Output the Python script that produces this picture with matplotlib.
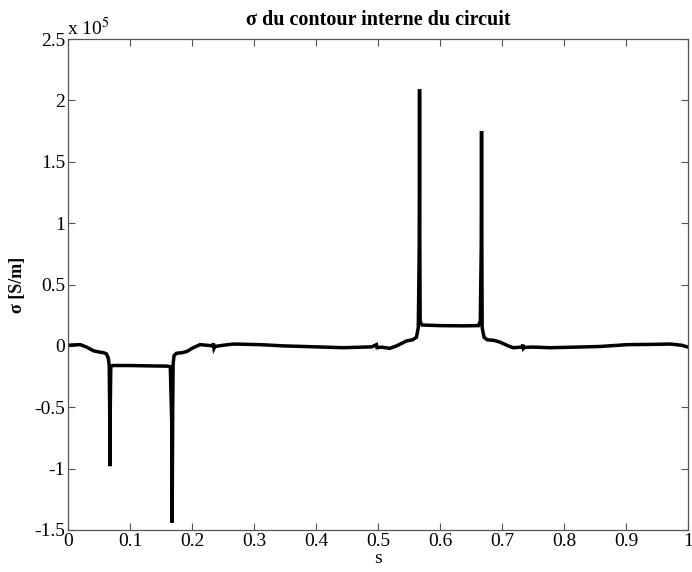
import matplotlib
matplotlib.use("Agg")
import matplotlib.pyplot as plt
from matplotlib.ticker import FuncFormatter

plt.rcParams['font.family'] = ['Liberation Serif', 'DejaVu Serif']
plt.rcParams['mathtext.fontset'] = 'stix'

# curvilinear abscissa s
s = [0.0, 0.01, 0.02, 0.03, 0.041, 0.05, 0.057, 0.062, 0.065, 0.0665, 0.0672, 0.0677,
     0.0682, 0.069, 0.072, 0.10, 0.13, 0.160, 0.165, 0.1672, 0.168, 0.1688, 0.1695,
     0.171, 0.175, 0.185, 0.192, 0.200, 0.213, 0.224, 0.233, 0.2345, 0.2355, 0.237, 0.25,
     0.267, 0.31, 0.347, 0.40, 0.444, 0.49, 0.4975, 0.4985, 0.505, 0.519, 0.53, 0.546,
     0.556, 0.562, 0.565, 0.5665, 0.567, 0.5675, 0.568, 0.571, 0.60, 0.64, 0.662,
     0.665, 0.6665, 0.667, 0.6675, 0.668, 0.671, 0.676, 0.687, 0.697, 0.71, 0.718,
     0.732, 0.7335, 0.7345, 0.736, 0.75, 0.778, 0.82, 0.858, 0.902, 0.94, 0.971, 0.99, 1.0]

# sigma in units of 1e5 S/m
sigma_e5 = [0.005, 0.008, 0.01, -0.01, -0.04, -0.05, -0.055, -0.065, -0.10, -0.16, -0.5,
            -0.98, -0.5, -0.17, -0.16, -0.16, -0.163, -0.165, -0.17, -0.6, -1.44, -0.6,
            -0.15, -0.08, -0.06, -0.055, -0.045, -0.02, 0.01, 0.005, 0.0, 0.02, -0.02,
            -0.005, 0.005, 0.015, 0.01, 0.0, -0.008, -0.015, -0.008, 0.01, -0.015, -0.01,
            -0.02, 0.0, 0.04, 0.05, 0.07, 0.15, 0.8, 2.09, 0.8, 0.2, 0.17, 0.165, 0.163,
            0.165, 0.2, 0.8, 1.75, 0.8, 0.15, 0.07, 0.05, 0.045, 0.03, 0.0, -0.015, -0.01,
            0.01, -0.02, -0.012, -0.01, -0.015, -0.01, -0.005, 0.01, 0.012, 0.015, 0.005,
            -0.01]

xticks = [0, 0.1, 0.2, 0.3, 0.4, 0.5, 0.6, 0.7, 0.8, 0.9, 1]
yticks = [-1.5, -1, -0.5, 0, 0.5, 1, 1.5, 2, 2.5]

fig = plt.figure(figsize=(6.92, 5.72), dpi=100)
ax = fig.add_axes([68/692, 1 - 530/572, 620/692, 491/572])

ax.plot(s, sigma_e5, color='black', linewidth=2.5, solid_joinstyle='miter')

ax.set_xlim(0, 1)
ax.set_ylim(-1.5, 2.5)
ax.set_xticks(xticks)
ax.set_yticks(yticks)
fmt = FuncFormatter(lambda v, p: ('%g' % v))
ax.xaxis.set_major_formatter(fmt)
ax.yaxis.set_major_formatter(fmt)
ax.tick_params(direction='in', length=5, width=0.8, top=True, right=True,
               labelsize=14, colors='#555555', labelcolor='black', pad=2)
for sp in ax.spines.values():
    sp.set_color('#555555')
    sp.set_linewidth(0.9)

ax.set_title('σ du contour interne du circuit', fontsize=14.5, fontweight='bold', pad=10)
ax.set_xlabel('s', fontsize=14, labelpad=0)
ax.set_ylabel('σ [S/m]', fontsize=13, fontweight='bold', labelpad=6)
fig.text(67/692, 1 - 28/572, 'x 10$^{5}$', fontsize=14, ha='left', va='center')

fig.savefig('out.png', dpi=100)
